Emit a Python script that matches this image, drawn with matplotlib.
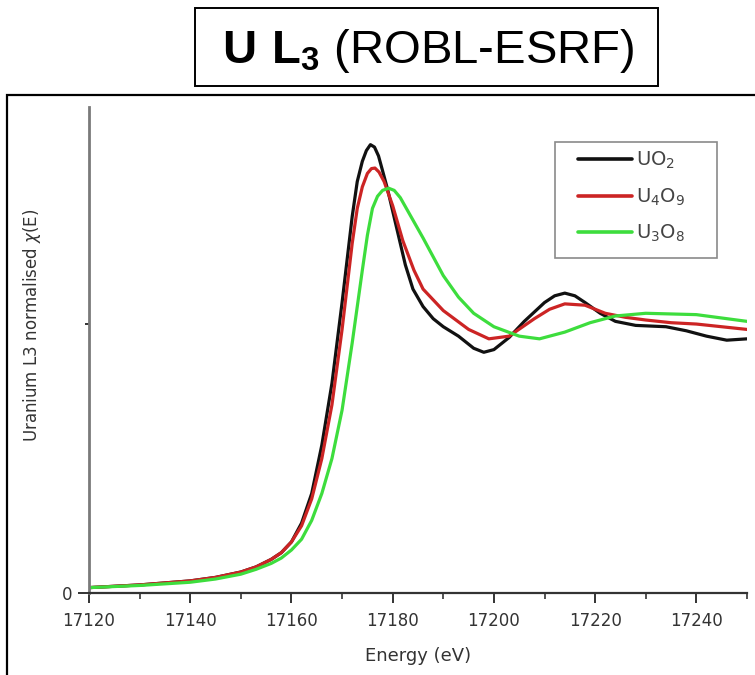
import matplotlib
matplotlib.use("Agg")
import matplotlib.pyplot as plt
from matplotlib.patches import Rectangle
from matplotlib.font_manager import FontProperties
from matplotlib.ticker import MultipleLocator, FixedLocator

# --- XANES spectra, U L3 edge -------------------------------------------
energy_uo2 = [17120, 17130, 17140, 17145, 17150, 17153, 17156, 17158, 17160,
              17162, 17164, 17166, 17168, 17170, 17171, 17172, 17173, 17174,
              17174.8, 17175.6, 17176.4, 17177.2, 17178, 17179, 17180, 17181,
              17182.5, 17184, 17186, 17188, 17190, 17193, 17196, 17198, 17200,
              17203, 17206, 17210, 17212, 17214, 17216, 17218, 17221, 17224,
              17228, 17234, 17238, 17242, 17246, 17250]
mu_uo2 = [0.02, 0.03, 0.045, 0.058, 0.078, 0.097, 0.125, 0.15, 0.19,
          0.26, 0.37, 0.55, 0.78, 1.08, 1.24, 1.40, 1.53, 1.605,
          1.645, 1.667, 1.658, 1.625, 1.57, 1.50, 1.42, 1.34,
          1.22, 1.13, 1.065, 1.02, 0.99, 0.955, 0.91, 0.895, 0.905,
          0.95, 1.01, 1.08, 1.105, 1.115, 1.105, 1.08, 1.04, 1.01,
          0.995, 0.99, 0.975, 0.955, 0.94, 0.945]

energy_u4o9 = [17120, 17130, 17140, 17145, 17150, 17153, 17156, 17158, 17160,
               17162, 17164, 17166, 17168, 17170, 17171, 17172, 17173, 17174,
               17175, 17175.8, 17176.5, 17177.3, 17178.3, 17180, 17182,
               17184.2, 17186, 17190, 17195, 17199, 17203, 17208, 17211,
               17214, 17218, 17222, 17226, 17230, 17235, 17240, 17245, 17250]
mu_u4o9 = [0.02, 0.03, 0.045, 0.058, 0.078, 0.097, 0.125, 0.15, 0.19,
           0.25, 0.35, 0.50, 0.70, 0.98, 1.14, 1.30, 1.43, 1.51,
           1.56, 1.578, 1.58, 1.565, 1.53, 1.44, 1.31,
           1.20, 1.13, 1.05, 0.98, 0.945, 0.955, 1.02, 1.055,
           1.075, 1.07, 1.04, 1.025, 1.015, 1.005, 1.0, 0.99, 0.98]

energy_u3o8 = [17120, 17130, 17140, 17145, 17150, 17153, 17156, 17158, 17160,
               17162, 17164, 17166, 17168, 17170, 17172, 17174, 17175, 17176,
               17177, 17178, 17179.2, 17180.3, 17181.5, 17183, 17184.5, 17186,
               17188, 17190, 17193, 17196, 17200, 17205, 17209, 17214, 17219,
               17224, 17230, 17240, 17250]
mu_u3o8 = [0.02, 0.028, 0.04, 0.052, 0.07, 0.088, 0.11, 0.13, 0.16,
           0.20, 0.27, 0.37, 0.50, 0.68, 0.93, 1.20, 1.33, 1.43,
           1.475, 1.497, 1.505, 1.497, 1.47, 1.42, 1.37, 1.32,
           1.25, 1.18, 1.10, 1.04, 0.99, 0.955, 0.945, 0.97, 1.005,
           1.03, 1.04, 1.035, 1.01]

labels = ["UO$_2$", "U$_4$O$_9$", "U$_3$O$_8$"]
colors = ["#111111", "#cc2424", "#3ddd3d"]
x_ticks = [17120, 17140, 17160, 17180, 17200, 17220, 17240]

plt.rcParams["font.family"] = ["DejaVu Sans"]
plt.rcParams["mathtext.fontset"] = "dejavusans"
plt.rcParams["mathtext.bf"] = "Liberation Sans:bold"
plt.rcParams["mathtext.rm"] = "Liberation Sans"

W, H = 755, 675
fig = plt.figure(figsize=(W / 100, H / 100), dpi=100)
ax = fig.add_axes([89 / W, 1 - 593 / H, (747 - 89) / W, (593 - 107) / H])

series = [(energy_uo2, mu_uo2), (energy_u4o9, mu_u4o9), (energy_u3o8, mu_u3o8)]
for (e, m), lab, col in zip(series, labels, colors):
    ax.plot(e, m, color=col, lw=2.3, label=lab, solid_capstyle="round",
            solid_joinstyle="round")

ax.set_xlim(17120, 17250)
ax.set_ylim(0, 1.807)
ax.xaxis.set_major_locator(FixedLocator(x_ticks))
ax.xaxis.set_minor_locator(MultipleLocator(10))
ax.yaxis.set_major_locator(FixedLocator([0]))
ax.yaxis.set_minor_locator(FixedLocator([1]))

for s in ("top", "right"):
    ax.spines[s].set_visible(False)
ax.spines["left"].set_color("#7a7a7a")
ax.spines["left"].set_linewidth(2.0)
ax.spines["bottom"].set_color("#333333")
ax.spines["bottom"].set_linewidth(1.6)

ax.tick_params(axis="x", which="major", direction="out", length=7, width=1.4,
               color="#333333", pad=7, labelsize=12, labelcolor="#333333")
ax.tick_params(axis="x", which="minor", direction="out", length=4, width=1.2,
               color="#333333")
ax.tick_params(axis="y", which="major", direction="out", length=8, width=1.4,
               color="#333333", pad=4, labelsize=12, labelcolor="#333333")
ax.tick_params(axis="y", which="minor", direction="out", length=3, width=1.4,
               color="#333333")

fig.text(418 / W, 1 - 656 / H, "Energy (eV)", ha="center", va="center",
         fontsize=13, color="#333333")
fig.text(32 / W, 1 - 325 / H, r"Uranium L3 normalised $\chi$(E)", rotation=90,
         ha="center", va="center", fontsize=12, color="#333333")

leg = ax.legend(loc="upper left", bbox_to_anchor=(578 / W, 1 - 150 / H),
                bbox_transform=fig.transFigure, fontsize=14, frameon=False,
                handlelength=2.8, handletextpad=0.2, labelspacing=0.78,
                borderpad=0, borderaxespad=0)
for t in leg.get_texts():
    t.set_color("#444444")
for h in leg.get_lines():
    h.set_linewidth(2.6)

# legend frame
fig.add_artist(Rectangle((555 / W, 1 - 258 / H), 162 / W, 116 / H,
                         transform=fig.transFigure, fill=False,
                         edgecolor="#8a8a8a", lw=1.2, clip_on=False))

# framing boxes
fig.add_artist(Rectangle((7 / W, -0.1), 2.0, 1.1 - 95 / H, transform=fig.transFigure,
                         fill=False, edgecolor="black", lw=1.6, clip_on=False))
fig.add_artist(Rectangle((195 / W, 1 - 86 / H), 463 / W, 78 / H,
                         transform=fig.transFigure, fill=False,
                         edgecolor="black", lw=1.4, clip_on=False))

title_fp = FontProperties(family="Liberation Sans", size=34, math_fontfamily="custom")
fig.text(428 / W, 1 - 63 / H, r"$\mathbf{U\ L_3}$ (ROBL-ESRF)", ha="center",
         va="baseline", fontproperties=title_fp, color="black")

fig.savefig("out.png", dpi=100)
